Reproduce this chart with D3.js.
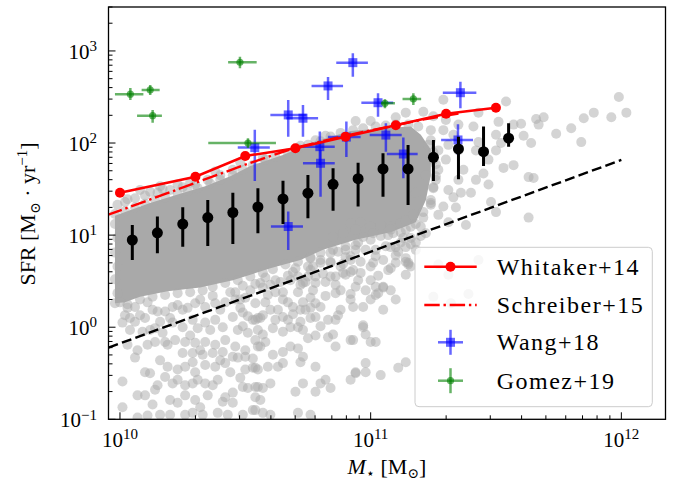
<!DOCTYPE html>
<html><head><meta charset="utf-8">
<script src="https://cdn.jsdelivr.net/npm/d3@7"></script>
<style>
body{margin:0;background:#fff}
text{font-family:"Liberation Serif","DejaVu Serif",serif;fill:#000}
</style>
</head><body>
<svg id="chart" width="676" height="482"></svg>
<script>
// ---------------- DATA ----------------
// Whitaker+14 main sequence
const whitakerMass = [1.0e10, 2.0e10, 3.16e10, 5.01e10, 7.94e10, 1.26e11, 2.0e11, 3.16e11];
const whitakerSFR  = [28.9, 43.1, 72.3, 87.7, 117, 156, 208, 242];
// Schreiber+15 main sequence
const schreiberMass = [8.9e9, 1.26e10, 2.0e10, 3.16e10, 5.01e10, 7.94e10, 1.12e11, 1.58e11, 2.24e11];
const schreiberSFR  = [16.5, 23.3, 36.9, 58.2, 89.1, 120, 146, 178, 209];
// quiescent cut (dashed)
const cutMass = [9.0e9, 1.0e12];
const cutSFR  = [0.6, 65.5];
// binned medians
const medianMass = [1.12e10,1.41e10,1.78e10,2.24e10,2.82e10,3.55e10,4.47e10,5.62e10,7.08e10,8.91e10,1.12e11,1.41e11,1.78e11,2.24e11,2.82e11,3.55e11];
const medianSFR  = [8.85,10.6,13.2,15.5,17.6,20.2,24.7,28.5,35.6,41.0,52.3,52.3,70.0,86.2,80.5,113];
const medianLo   = [5.37,6.35,7.49,7.62,8.02,10.5,13.2,15.2,18.4,20.4,26.1,21.2,38.7,40.4,56.4,91.2];
const medianHi   = [12.9,15.9,20.1,24.1,28.9,32.3,39.0,45.0,53.2,61.2,77.4,95.2,108,117,151,164];
// Wang+18
const wangMass   = [3.45e10,4.69e10,5.37e10,6.76e10,1.07e11,6.27e10,6.31e10,8.0e10,1.15e11,1.35e11,4.69e10,2.28e11,2.23e11,8.49e10];
const wangMassLo = [2.95e10,3.98e10,4.61e10,5.81e10,9.18e10,5.37e10,5.37e10,6.75e10,9.91e10,1.16e11,4.0e10,1.94e11,1.91e11,7.29e10];
const wangMassHi = [3.96e10,5.55e10,6.17e10,7.76e10,1.23e11,7.19e10,7.19e10,9.12e10,1.33e11,1.54e11,5.37e10,2.64e11,2.56e11,9.75e10];
const wangSFR    = [89.2,202,186,417,274,91.3,60.3,116,122,76.0,12.4,352,108,746];
const wangSFRLo  = [38.7,117,117,294,193,57.8,26.1,70.6,80.5,41.4,6.9,239,74.2,526];
const wangSFRHi  = [139,294,259,522,347,133,84.1,171,164,115,18.0,464,160,944];
// Gomez+19
const gomezMass   = [1.10e10,1.32e10,1.35e10,3.01e10,3.24e10,1.14e11,1.48e11];
const gomezMassLo = [9.55e9,1.22e10,1.17e10,2.70e10,2.25e10,1.10e11,1.34e11];
const gomezMassHi = [1.24e10,1.44e10,1.47e10,3.51e10,4.19e10,1.25e11,1.59e11];
const gomezSFR    = [339,377,198,754,100,270,301];
const gomezSFRLo  = [294,333,166,649,88.3,239,259];
const gomezSFRHi  = [396,427,229,867,113,299,347];
// saturated core of the simulated galaxy cloud: outline in [log M, log SFR]
const coreOutline = [[9.98,1.21],[10.04,1.27],[10.12,1.35],[10.24,1.45],[10.34,1.53],[10.44,1.64],[10.52,1.75],[10.65,1.87],[10.78,2.02],[10.92,2.13],[11.05,2.16],[11.16,2.18],[11.20,2.09],[11.24,1.93],[11.24,1.65],[11.22,1.38],[11.18,1.14],[11.08,1.03],[10.94,0.95],[10.81,0.84],[10.72,0.73],[10.60,0.64],[10.52,0.57],[10.45,0.51],[10.32,0.43],[10.19,0.39],[10.08,0.33],[10.02,0.27],[9.98,0.26]];
// individual simulated galaxies: [log M, log SFR]
const galaxies = [
[9.98,1.23],[10.02,1.26],[10.06,1.30],[10.10,1.34],[10.14,1.38],[10.18,1.41],[10.23,1.45],[10.27,1.48],[10.31,1.51],[10.36,1.56],[10.40,1.60],[10.45,1.65],[10.49,1.71],[10.53,1.76],[10.58,1.82],[10.62,1.85],[10.67,1.89],[10.71,1.94],[10.75,1.98],[10.80,2.02],[10.84,2.07],[10.88,2.11],[10.93,2.14],[10.97,2.16],[11.02,2.18],[11.06,2.19],[11.10,2.20],[11.15,2.20],[11.19,2.18],
[10.08,1.49],[10.12,1.47],[10.16,1.53],[10.17,1.50],[10.23,1.55],[10.28,1.57],[10.38,1.69],[10.48,1.79],[10.57,1.84],[10.72,1.97],[10.78,2.03],[10.82,2.08],[10.94,2.24],[11.00,2.24],[11.10,2.28],[11.14,2.33],[11.21,2.34],[11.25,2.29],[11.30,2.25],[11.35,2.20],[9.99,1.33],[10.03,1.39],
[10.02,1.36],[10.06,1.40],[10.10,1.43],[10.15,1.46],[10.20,1.49],[10.25,1.52],[10.30,1.55],[10.35,1.60],[10.40,1.65],[10.45,1.71],
[9.98,1.12],[9.99,0.97],[9.98,0.81],[9.99,0.66],[9.98,0.52],[9.99,0.37],
[9.98,0.26],[10.03,0.25],[10.08,0.30],[10.13,0.33],[10.18,0.35],[10.23,0.37],[10.28,0.38],[10.33,0.40],[10.37,0.44],[10.42,0.48],[10.47,0.51],[10.52,0.55],[10.57,0.59],[10.61,0.63],[10.66,0.68],[10.71,0.71],[10.76,0.76],[10.80,0.81],[10.85,0.84],[10.90,0.88],[10.95,0.92],[11.00,0.95],[11.04,0.99],[11.09,1.02],[11.14,1.06],[11.18,1.12],[11.21,1.25],[11.24,1.38],[11.25,1.51],[11.26,1.64],[11.26,1.77],[11.25,1.90],[11.24,2.03],
[10.02,0.13],[10.06,0.06],[10.10,0.10],[10.15,0.17],[10.20,0.10],[10.23,0.24],[10.27,0.21],[10.32,0.30],[10.37,0.34],[10.40,0.19],[10.44,0.38],[10.48,0.30],[10.52,0.40],[10.57,0.43],[10.59,0.35],[10.62,0.51],[10.65,0.38],[10.69,0.60],[10.72,0.46],
[11.10,0.78],[11.14,0.57],[11.18,0.84],[11.07,0.62],[11.10,0.30],
[10.46,0.38],[10.49,0.45],[10.54,0.47],[10.58,0.54],[10.62,0.38],[10.67,0.56],[10.70,0.64],[10.74,0.49],[10.77,0.66],[10.81,0.58],[10.84,0.71],[10.89,0.69],[10.92,0.77],[10.96,0.71],[10.98,0.84],[11.02,0.77],[11.06,0.88],[11.11,0.82],[11.13,0.97],[11.16,0.90],[11.20,0.99],[11.08,0.64],[11.03,0.56],[10.98,0.40],[10.92,0.36],[10.82,0.34],[10.77,0.40],
[10.48,0.21],[10.51,0.12],[10.58,0.27],[10.62,0.08],[10.69,0.14],[10.72,0.06],[10.80,0.01],[10.78,-0.09],[10.49,0.01],[10.58,-0.16],
[10.04,0.10],[10.12,-0.03],[10.16,0.06],[10.19,-0.19],[10.28,-0.09],[10.32,-0.25],[10.36,-0.03],[10.40,-0.36],[10.44,-0.49],[10.48,-0.55],[10.30,-0.49],[10.16,-0.36],[10.03,-0.19],[10.10,-0.74],[10.26,-0.74],[10.30,-0.79],[10.20,-0.79],
[11.27,1.22],[11.34,1.30],[11.38,1.11],
[10.00,0.27],[10.11,0.27],[10.03,0.21],[10.06,0.22],[10.13,0.19],[10.08,0.13],[10.18,0.17],[10.21,0.22],[10.25,0.19],[10.30,0.26],[10.34,0.22],[10.38,0.26],[10.42,0.27],[10.46,0.30],[10.50,0.32],[10.54,0.26],
[10.01,0.05],[10.04,-0.03],[10.09,-0.05],[10.14,-0.01],[10.17,-0.06],[10.21,0.05],[10.25,0.00],[10.29,0.08],[10.31,-0.01],[10.34,0.05],[10.38,0.08],[10.41,0.00],[10.45,0.11],[10.49,0.16],[10.53,0.08],[10.56,0.10],[10.47,-0.03],[10.51,-0.06],
[10.11,-0.19],[10.07,-0.25],[10.14,-0.16],[10.18,-0.16],[10.22,-0.14],[10.26,-0.16],[10.30,-0.17],[10.34,-0.16],[10.38,-0.19],[10.42,-0.14],[10.46,-0.21],[10.50,-0.25],[10.54,-0.14],[10.56,-0.21],
[10.25,-0.28],[10.29,-0.28],[10.33,-0.30],[10.37,-0.28],[10.41,-0.27],[10.45,-0.32],[10.06,-0.33],[10.19,-0.43],[10.23,-0.46],[10.26,-0.43],[10.29,-0.38],[10.34,-0.41],[10.38,-0.43],[10.42,-0.39],[10.47,-0.33],[10.50,-0.32],[10.53,-0.34],
[10.10,-0.49],[10.12,-0.50],[10.15,-0.63],[10.18,-0.54],[10.21,-0.61],[10.23,-0.57],[10.26,-0.63],[10.29,-0.61],[10.31,-0.57],[10.34,-0.61],[10.37,-0.63],[10.39,-0.57],[10.50,-0.46],[10.53,-0.44],[10.55,-0.46],[10.49,-0.65],[10.51,-0.66],[10.55,-0.65],
[10.01,-0.59],[10.07,-0.74],[10.14,-0.68],[10.42,-0.76],[10.45,-0.71],[10.54,-0.76],[10.01,-0.87],
[10.07,-0.98],[10.11,-0.96],[10.13,-0.84],[10.16,-0.95],[10.20,-0.95],[10.23,-0.82],[10.26,-0.95],[10.29,-0.93],[10.32,-0.87],[10.33,-0.95],[10.35,-0.74],[10.39,-0.93],[10.41,-0.81],[10.43,-0.95],[10.45,-0.82],[10.49,-0.95],[10.53,-0.90],[10.56,-0.79],
[10.92,1.13],[10.96,1.14],[11.00,1.09],[11.04,1.11],[11.08,1.09],[11.12,1.13],[11.16,1.09],[11.10,0.87],[11.14,0.87],[11.14,0.71],[11.16,0.66],
[10.84,0.81],[10.87,0.82],[10.90,0.84],[10.92,0.73],[10.94,0.89],[10.84,0.70],[10.80,0.70],[10.76,0.75],[10.75,0.66],[10.75,0.55],[10.78,0.55],[10.82,0.49],[10.86,0.46],[10.92,0.60],[10.89,0.59],[10.95,0.51],[11.01,0.70],[11.00,0.51],[11.05,0.44],[11.03,0.37],[11.05,0.19],
[10.97,0.02],[10.98,-0.08],[11.02,-0.16],[10.92,-0.14],[10.86,0.08],[10.87,0.13],[10.83,0.08],[10.85,-0.08],[10.83,-0.11],
[10.56,0.48],[10.60,0.46],[10.64,0.49],[10.68,0.51],[10.71,0.38],[10.73,0.27],[10.76,0.32],[10.78,0.26],[10.80,0.22],[10.76,0.21],[10.74,0.19],[10.76,0.10],[10.78,0.11],[10.72,0.19],[10.69,0.22],[10.67,0.27],[10.65,0.30],[10.63,0.19],[10.60,0.19],[10.57,0.13],[10.55,0.10],[10.65,0.11],[10.67,0.08],[10.68,0.00],[10.71,0.00],[10.73,-0.03],[10.75,-0.12],[10.65,-0.05],[10.61,-0.01],[10.57,-0.08],[10.55,-0.03],[10.54,0.08],
[10.55,-0.21],[10.61,-0.30],[10.65,-0.27],[10.68,-0.21],[10.71,-0.23],[10.73,-0.32],[10.72,-0.38],[10.65,-0.39],[10.63,-0.43],[10.59,-0.43],[10.54,-0.44],[10.78,-0.43],[10.82,-0.57],[10.84,-0.66],[10.80,-0.61],[10.78,-0.70],[10.73,-0.61],[10.70,-0.70],[10.60,-0.61],[10.57,-0.66],[10.54,-0.65],
[10.92,-0.57],[10.94,-0.49],[10.98,-0.39],[10.98,-0.49],[11.04,-0.52],[11.11,-0.44],[11.14,-0.38],[10.54,-0.90],[10.57,-0.93],[10.71,-0.93],[10.76,-0.95],[10.60,-0.95],
[10.85,0.98],[10.89,1.02],[10.94,1.06],[10.97,0.98],[11.01,1.02],[11.07,1.00],[11.12,1.03],[11.15,0.70],[11.14,0.75],[10.86,0.55],[10.90,0.57],[10.93,0.62],[11.05,0.43],[11.02,0.35],[11.00,0.30],[10.97,0.22],[10.92,0.30],[10.86,0.37],[10.88,0.19],[10.93,0.22],[10.97,0.00],[10.93,-0.14],[11.00,-0.16],[10.86,-0.21],[10.94,-0.50],
[11.27,0.68],[11.31,0.57],[11.43,0.73],[11.25,0.33],[11.32,0.26],[11.39,0.36],[11.15,0.68],
[11.18,1.46],[11.24,1.35],[11.21,1.19],[11.14,1.16],[11.08,1.06],[11.12,0.92],[11.08,0.87],[11.10,0.70],[11.02,0.84],[11.05,0.73],[11.00,0.66],[10.94,0.84],[10.90,0.76],[10.88,0.66],[10.96,0.59],[10.80,0.73],[10.76,0.62],[10.73,0.48],[10.78,0.48],[10.84,0.55],[10.88,0.40],[10.94,0.44],[11.02,0.44],[11.08,0.40],[10.71,0.55],
[11.29,2.47],[11.54,2.45],[11.43,2.33],[11.51,2.23],[11.57,2.20],[11.60,2.21],[11.66,2.26],[11.69,2.28],[11.67,2.20],[11.74,2.10],[11.80,2.16],[11.85,2.27],[11.89,2.33],[11.84,2.01],[11.96,2.28],[11.99,2.50],[12.02,2.33],[11.61,2.08],[11.64,2.00],[11.50,2.09],[11.52,2.00],[11.50,1.92],[11.53,1.73],[11.57,1.76],[11.63,1.63],[11.65,1.62],[11.42,1.60],[11.40,1.46],[11.36,1.46],[11.33,1.41],[11.29,1.31],[11.24,1.33],[11.25,1.52],[11.48,1.36],[11.50,1.25],[11.63,1.19],[11.31,1.14],[11.22,1.02],[11.17,1.22],[11.20,1.09],[11.16,0.97],[11.18,0.92],[11.42,1.92],[11.41,2.18],[11.43,2.01],[11.30,1.82],[11.27,1.71],[11.26,1.60],[11.45,1.67],[11.35,1.92],[11.33,2.09],[11.37,1.71],[11.31,1.98],[11.47,1.82],[11.47,1.55],[11.35,1.60],[11.31,1.49],
[11.23,1.98],[11.25,1.82],[11.22,1.65],[11.27,1.92],[11.24,2.14],[11.29,2.14]
];
// axis tick values
const xMajor = [1e10, 1e11, 1e12];
const xMajorExp = ["10","11","12"];
const yMajor = [0.1, 1, 10, 100, 1000];
const yMajorExp = ["\u22121","0","1","2","3"];
const legendLabels = ["Whitaker+14","Schreiber+15","Wang+18","Gomez+19"];

// ---------------- CHART ----------------
const svg = d3.select("#chart");
svg.append("rect").attr("width",676).attr("height",482).attr("fill","#fff");
const L=108.5, R=665.5, T=7, B=419.3;
const x = d3.scaleLog().domain([9e9,1.5e12]).range([L,R]);
const y = d3.scaleLog().domain([0.1,3000]).range([B,T]);

svg.append("clipPath").attr("id","clip").append("rect")
  .attr("x",L).attr("y",T).attr("width",R-L).attr("height",B-T);
const g = svg.append("g").attr("clip-path","url(#clip)");

const grey = "#a9a9a9";
g.append("path")
  .attr("d", d3.line().x(d=>x(10**d[0])).y(d=>y(10**d[1])).curve(d3.curveLinearClosed)(coreOutline))
  .attr("fill", grey);
g.append("g").selectAll("circle").data(galaxies).join("circle")
  .attr("cx", d=>x(10**d[0])).attr("cy", d=>y(10**d[1])).attr("r",5)
  .attr("fill", grey).attr("fill-opacity",0.5);

g.append("path").attr("d", d3.line().x(d=>x(d[0])).y(d=>y(d[1]))(d3.zip(cutMass,cutSFR)))
  .attr("fill","none").attr("stroke","#000").attr("stroke-width",2.4).attr("stroke-dasharray","10,4.3");

const wang = g.append("g");
wangMass.forEach((m,i)=>{
  wang.append("line").attr("x1",x(wangMassLo[i])).attr("x2",x(wangMassHi[i])).attr("y1",y(wangSFR[i])).attr("y2",y(wangSFR[i]))
    .attr("stroke","blue").attr("stroke-width",2.5).attr("stroke-opacity",0.6);
  wang.append("line").attr("x1",x(m)).attr("x2",x(m)).attr("y1",y(wangSFRLo[i])).attr("y2",y(wangSFRHi[i]))
    .attr("stroke","blue").attr("stroke-width",2.5).attr("stroke-opacity",0.6);
  wang.append("rect").attr("x",x(m)-4.5).attr("y",y(wangSFR[i])-4.5).attr("width",9).attr("height",9)
    .attr("fill","blue").attr("fill-opacity",0.6);
});
const gom = g.append("g");
gomezMass.forEach((m,i)=>{
  gom.append("line").attr("x1",x(gomezMassLo[i])).attr("x2",x(gomezMassHi[i])).attr("y1",y(gomezSFR[i])).attr("y2",y(gomezSFR[i]))
    .attr("stroke","green").attr("stroke-width",2.5).attr("stroke-opacity",0.6);
  gom.append("line").attr("x1",x(m)).attr("x2",x(m)).attr("y1",y(gomezSFRLo[i])).attr("y2",y(gomezSFRHi[i]))
    .attr("stroke","green").attr("stroke-width",2.5).attr("stroke-opacity",0.6);
  gom.append("circle").attr("cx",x(m)).attr("cy",y(gomezSFR[i])).attr("r",3.6)
    .attr("fill","green").attr("fill-opacity",0.6);
});

const med = g.append("g");
medianMass.forEach((m,i)=>{
  med.append("line").attr("x1",x(m)).attr("x2",x(m)).attr("y1",y(medianLo[i])).attr("y2",y(medianHi[i]))
    .attr("stroke","#000").attr("stroke-width",3);
  med.append("circle").attr("cx",x(m)).attr("cy",y(medianSFR[i])).attr("r",5.5).attr("fill","#000");
});

g.append("path").attr("d", d3.line().x(d=>x(d[0])).y(d=>y(d[1]))(d3.zip(schreiberMass,schreiberSFR)))
  .attr("fill","none").attr("stroke","red").attr("stroke-width",2.4).attr("stroke-dasharray","15.4,3.8,2.4,3.8");
g.append("path").attr("d", d3.line().x(d=>x(d[0])).y(d=>y(d[1]))(d3.zip(whitakerMass,whitakerSFR)))
  .attr("fill","none").attr("stroke","red").attr("stroke-width",2.5);
g.append("g").selectAll("circle").data(d3.zip(whitakerMass,whitakerSFR)).join("circle")
  .attr("cx",d=>x(d[0])).attr("cy",d=>y(d[1])).attr("r",5).attr("fill","red");

// ---------------- AXES ----------------
const ax = svg.append("g");
ax.append("rect").attr("x",L).attr("y",T).attr("width",R-L).attr("height",B-T)
  .attr("fill","none").attr("stroke","#000").attr("stroke-width",1.3);
const xMinor = [];
[9,10,11,12].forEach(d=>{for(let k=2;k<=9;k++){const v=k*10**d; if(v>9.01e9 && v<1.5e12) xMinor.push(v);}});
xMinor.forEach(v=>ax.append("line").attr("x1",x(v)).attr("x2",x(v)).attr("y1",B).attr("y2",B-4).attr("stroke","#000").attr("stroke-width",1));
xMajor.forEach(v=>ax.append("line").attr("x1",x(v)).attr("x2",x(v)).attr("y1",B).attr("y2",B-7).attr("stroke","#000").attr("stroke-width",1));
xMajor.forEach((v,i)=>{
  const t = ax.append("text").attr("x",x(v)).attr("y",446.7).attr("text-anchor","middle").style("font-size","21px");
  t.append("tspan").text("10");
  t.append("tspan").attr("dy",-7.5).style("font-size","15px").text(xMajorExp[i]);
});
const yMinor = [];
[-1,0,1,2,3].forEach(d=>{for(let k=2;k<=9;k++){const v=k*10**d; if(v<3001) yMinor.push(v);}});
yMinor.forEach(v=>ax.append("line").attr("x1",L).attr("x2",L+4).attr("y1",y(v)).attr("y2",y(v)).attr("stroke","#000").attr("stroke-width",1));
yMajor.forEach(v=>ax.append("line").attr("x1",L).attr("x2",L+7).attr("y1",y(v)).attr("y2",y(v)).attr("stroke","#000").attr("stroke-width",1));
yMajor.forEach((v,i)=>{
  const t = ax.append("text").attr("x",97).attr("y",y(v)+7.7).attr("text-anchor","end").style("font-size","21px");
  t.append("tspan").text("10");
  t.append("tspan").attr("dy",-7.5).style("font-size","15px").text(yMajorExp[i]);
});
const xl = ax.append("text").attr("x",387).attr("y",474).attr("text-anchor","middle").style("font-size","22px");
xl.append("tspan").style("font-style","italic").text("M");
xl.append("tspan").attr("dy",4).style("font-size","14px").text("\u22C6");
xl.append("tspan").attr("dy",-4).text(" [M");
xl.append("tspan").attr("dy",4).style("font-size","14px").text("\u2299");
xl.append("tspan").attr("dy",-4).text("]");

const yl = ax.append("text").attr("transform","translate(35,214) rotate(-90)").attr("text-anchor","middle").style("font-size","22px");
yl.append("tspan").text("SFR [M");
yl.append("tspan").attr("dy",5).style("font-size","14px").text("\u2299");
yl.append("tspan").attr("dy",-5).text(" \u00B7 yr");
yl.append("tspan").attr("dy",-8).style("font-size","15px").text("\u22121");
yl.append("tspan").attr("dy",8).text("]");

// ---------------- LEGEND ----------------
const lg = svg.append("g");
lg.append("rect").attr("x",415).attr("y",247.3).attr("width",237.3).attr("height",159.4).attr("rx",4)
  .attr("fill","#fff").attr("fill-opacity",0.8).attr("stroke","#cccccc").attr("stroke-width",1);
const rowY = [266.7, 305, 342.3, 380.7];
const hx1 = 424.3, hx2 = 476.7, hc = 450.5;
lg.append("line").attr("x1",hx1).attr("x2",hx2).attr("y1",rowY[0]).attr("y2",rowY[0]).attr("stroke","red").attr("stroke-width",2.5);
lg.append("circle").attr("cx",hc).attr("cy",rowY[0]).attr("r",5).attr("fill","red");
lg.append("line").attr("x1",hx1).attr("x2",hx2).attr("y1",rowY[1]).attr("y2",rowY[1]).attr("stroke","red").attr("stroke-width",2.4).attr("stroke-dasharray","15.4,3.8,2.4,3.8");
lg.append("line").attr("x1",hc-12.5).attr("x2",hc+12.5).attr("y1",rowY[2]).attr("y2",rowY[2]).attr("stroke","blue").attr("stroke-width",2.5).attr("stroke-opacity",0.6);
lg.append("line").attr("x1",hc).attr("x2",hc).attr("y1",rowY[2]-12.5).attr("y2",rowY[2]+12.5).attr("stroke","blue").attr("stroke-width",2.5).attr("stroke-opacity",0.6);
lg.append("rect").attr("x",hc-4.5).attr("y",rowY[2]-4.5).attr("width",9).attr("height",9).attr("fill","blue").attr("fill-opacity",0.6);
lg.append("line").attr("x1",hc-12.5).attr("x2",hc+12.5).attr("y1",rowY[3]).attr("y2",rowY[3]).attr("stroke","green").attr("stroke-width",2.5).attr("stroke-opacity",0.6);
lg.append("line").attr("x1",hc).attr("x2",hc).attr("y1",rowY[3]-12.5).attr("y2",rowY[3]+12.5).attr("stroke","green").attr("stroke-width",2.5).attr("stroke-opacity",0.6);
lg.append("circle").attr("cx",hc).attr("cy",rowY[3]).attr("r",3.6).attr("fill","green").attr("fill-opacity",0.6);
legendLabels.forEach((s,i)=>{
  lg.append("text").attr("x",496.7).attr("y",rowY[i]+7.8).style("font-size","24px").style("letter-spacing","1.5px").text(s);
});
</script>
</body></html>
